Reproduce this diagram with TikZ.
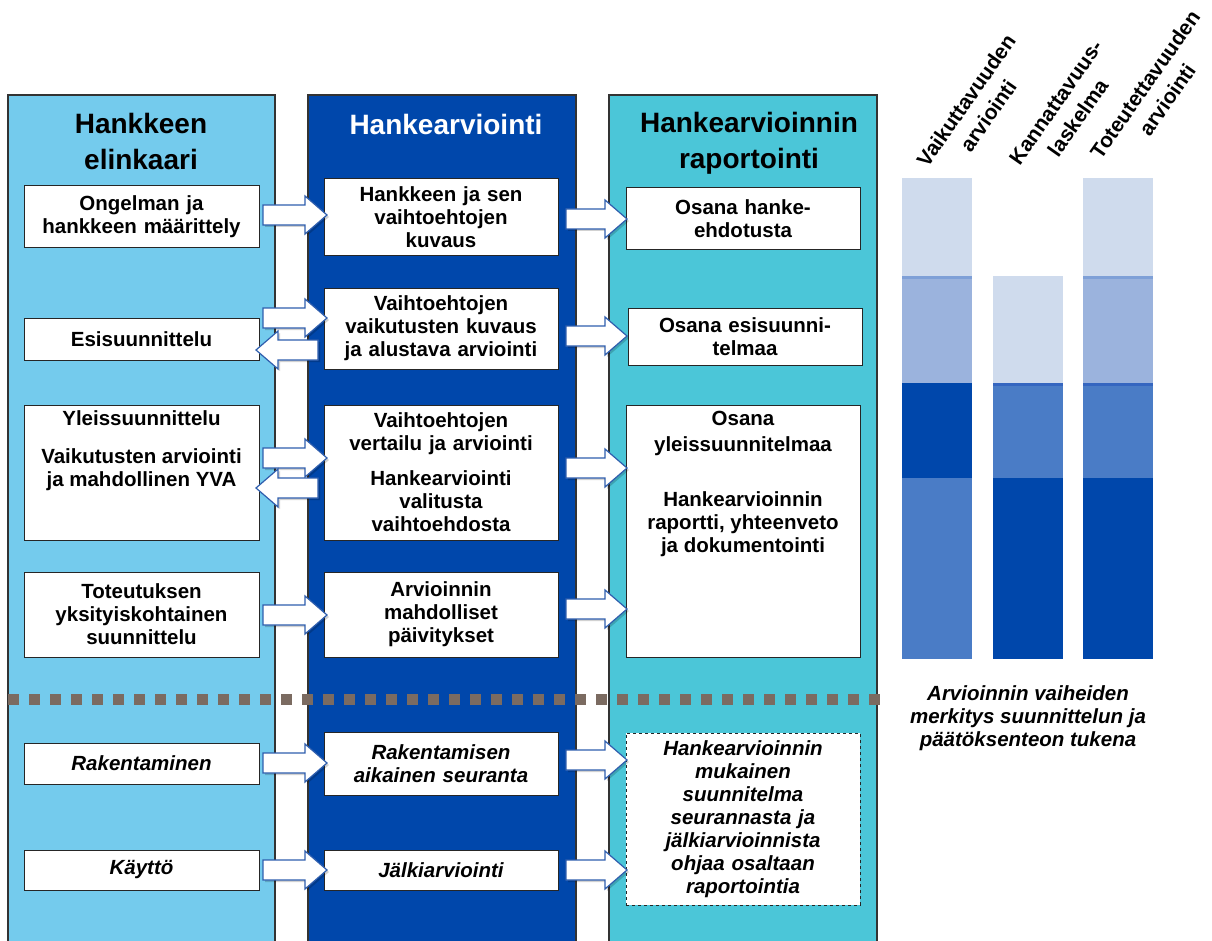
\documentclass[tikz,border=0pt]{standalone}
\usepackage{fontspec}
\setmainfont{Liberation Sans}
\definecolor{colA}{HTML}{74CBED}
\definecolor{colB}{HTML}{0047AB}
\definecolor{colC}{HTML}{4BC6D8}
\definecolor{barLa}{HTML}{CFDBED}
\definecolor{barLb}{HTML}{9BB3DD}
\definecolor{barSep}{HTML}{7FA0D7}
\definecolor{barM}{HTML}{4A7CC6}
\definecolor{barEdge}{HTML}{3566C0}
\definecolor{barD}{HTML}{0047AB}
\definecolor{arrEdge}{HTML}{2F5EAE}
\definecolor{dotcol}{HTML}{7B6B61}
\newcommand\myboxfont{\bfseries\fontsize{20.5}{23}\selectfont}
\newcommand\mytitlefont{\bfseries\fontsize{28}{36}\selectfont}
\newcommand\myRarr[3]{%
  \fill[black,opacity=0.18] (#1+2,#3-8) -- (#2-20,#3-8) -- (#2-20,#3-17) -- (#2+2,#3+2) -- (#2-20,#3+21) -- (#2-20,#3+12) -- (#1+2,#3+12) -- cycle;
  \draw[arrowstyle] (#1,#3-10) -- (#2-22,#3-10) -- (#2-22,#3-19) -- (#2,#3) -- (#2-22,#3+19) -- (#2-22,#3+10) -- (#1,#3+10) -- cycle;}
\newcommand\myLarr[3]{%
  \fill[black,opacity=0.18] (#1+2,#3-8) -- (#2+24,#3-8) -- (#2+24,#3-17) -- (#2+2,#3+2) -- (#2+24,#3+21) -- (#2+24,#3+12) -- (#1+2,#3+12) -- cycle;
  \draw[arrowstyle] (#1,#3-10) -- (#2+22,#3-10) -- (#2+22,#3-19) -- (#2,#3) -- (#2+22,#3+19) -- (#2+22,#3+10) -- (#1,#3+10) -- cycle;}
\tikzset{
  colbox/.style={draw=black!80, line width=1.2},
  box/.style={draw=black!85, fill=white, line width=1, inner sep=0, align=center, font=\myboxfont, text width=228},
  ibox/.style={box, font=\myboxfont\itshape},
  plain/.style={inner sep=0, align=center, font=\myboxfont},
  title/.style={inner sep=0, align=center, font=\mytitlefont},
  arrowstyle/.style={draw=arrEdge, fill=white, line width=1.2, line join=miter},
  rotlabel/.style={inner sep=0, align=center, font=\bfseries\fontsize{21}{27}\selectfont, rotate=55},
}
\begin{document}
\begin{tikzpicture}[x=1pt,y=-1pt]
\clip (0,0) rectangle (1212,941);
\fill[white] (0,0) rectangle (1212,941);
% columns
\draw[colbox, fill=colA] (8,950) -- (8,95) -- (275,95) -- (275,950);
\draw[colbox, fill=colB] (308,950) -- (308,95) -- (576,95) -- (576,950);
\draw[colbox, fill=colC] (609,950) -- (609,95) -- (877,95) -- (877,950);
% titles
\node[title, anchor=north] (t1) at (141,113.5) {Hankkeen\\elinkaari};
\node[title, anchor=base, text=white] (t2) at (446,135) {Hankearviointi};
\node[title, anchor=north] (t3) at (749,112.5) {Hankearvioinnin\\raportointi};
% dotted line
\draw[dotcol, line width=11, dash pattern=on 10.6 off 10.4, line cap=butt] (8,699.5) -- (884,699.5);
% column 1 boxes
\node[box, minimum width=235, minimum height=62] (b1) at (141.5,217) {Ongelman ja\\hankkeen määrittely};
\node[box, minimum width=235, minimum height=42] (b2) at (141.5,339) {Esisuunnittelu};
\node[box, minimum width=235, minimum height=135] (b3) at (141.5,472.5) {};
\node[plain, anchor=north] (b3t) at (141.5,410) {Yleissuunnittelu\\[15pt]Vaikutusten arviointi\\ja mahdollinen YVA};
\node[box, minimum width=235, minimum height=85] (b4) at (141.5,614.5) {Toteutuksen\\yksityiskohtainen\\suunnittelu};
\node[ibox, minimum width=235, minimum height=41] (b5) at (141.5,763.5) {Rakentaminen};
\node[ibox, minimum width=235, minimum height=40] (b6) at (141.5,870) {Käyttö};
% column 2 boxes
\node[box, minimum width=234, minimum height=77] (c1) at (441,217.5) {Hankkeen ja sen\\vaihtoehtojen\\kuvaus};
\node[box, minimum width=234, minimum height=81] (c2) at (441,328.5) {Vaihtoehtojen\\vaikutusten kuvaus\\ja alustava arviointi};
\node[box, minimum width=234, minimum height=135] (c3) at (441,472.5) {Vaihtoehtojen\\vertailu ja arviointi\\[12pt]Hankearviointi\\valitusta\\vaihtoehdosta};
\node[box, minimum width=234, minimum height=85] (c4) at (441,614.5) {Arvioinnin\\mahdolliset\\päivitykset};
\node[ibox, minimum width=234, minimum height=63] (c5) at (441,763.5) {Rakentamisen\\aikainen seuranta};
\node[ibox, minimum width=234, minimum height=40] (c6) at (441,870) {Jälkiarviointi};
% column 3 boxes
\node[box, minimum width=234, minimum height=62] (d1) at (743,219) {Osana hanke-\\ehdotusta};
\node[box, minimum width=234, minimum height=57] (d2) at (745,336.5) {Osana esisuunni-\\telmaa};
\node[box, minimum width=234, minimum height=252] (d3) at (743,531) {};
\node[plain, anchor=north] (d3t) at (743,411) {Osana\\[3pt]yleissuunnitelmaa\\[32pt]Hankearvioinnin\\raportti, yhteenveto\\ja dokumentointi};
\node[ibox, dashed, minimum width=234, minimum height=172] (d4) at (743,819) {Hankearvioinnin\\mukainen\\suunnitelma\\seurannasta ja\\jälkiarvioinnista\\ohjaa osaltaan\\raportointia};
% arrows column 1 -> 2
\myRarr{263}{327}{215}
\myRarr{263}{327}{318}
\myLarr{318}{256}{350}
\myRarr{263}{327}{458}
\myLarr{318}{256}{488}
\myRarr{263}{327}{615}
\myRarr{263}{327}{763}
\myRarr{263}{327}{870}
% arrows column 2 -> 3
\myRarr{566}{627}{219}
\myRarr{566}{627}{336}
\myRarr{566}{627}{468}
\myRarr{566}{627}{609}
\myRarr{566}{627}{760}
\myRarr{566}{627}{870}
% bars
\fill[barLa] (902,178) rectangle (972,276);
\fill[barSep] (902,276) rectangle (972,279);
\fill[barLb] (902,279) rectangle (972,383);
\fill[barD] (902,383) rectangle (972,478);
\fill[barM] (902,478) rectangle (972,659);
\fill[barLa] (993,276) rectangle (1063,383);
\fill[barEdge] (993,383) rectangle (1063,386);
\fill[barM] (993,386) rectangle (1063,478);
\fill[barD] (993,478) rectangle (1063,659);
\fill[barLa] (1083,178) rectangle (1153,276);
\fill[barSep] (1083,276) rectangle (1153,279);
\fill[barLb] (1083,279) rectangle (1153,383);
\fill[barEdge] (1083,383) rectangle (1153,386);
\fill[barM] (1083,386) rectangle (1153,478);
\fill[barD] (1083,478) rectangle (1153,659);
% rotated labels
\node[rotlabel] (l1) at (977,108) {Vaikuttavuuden\\arviointi};
\node[rotlabel] (l2) at (1067,110) {Kannattavuus-\\laskelma};
\node[rotlabel] (l3) at (1156,92) {Toteutettavuuden\\arviointi};
% caption
\node[plain, anchor=north, font=\myboxfont\itshape] (cap) at (1028,685) {Arvioinnin vaiheiden\\merkitys suunnittelun ja\\päätöksenteon tukena};
\end{tikzpicture}
\end{document}
